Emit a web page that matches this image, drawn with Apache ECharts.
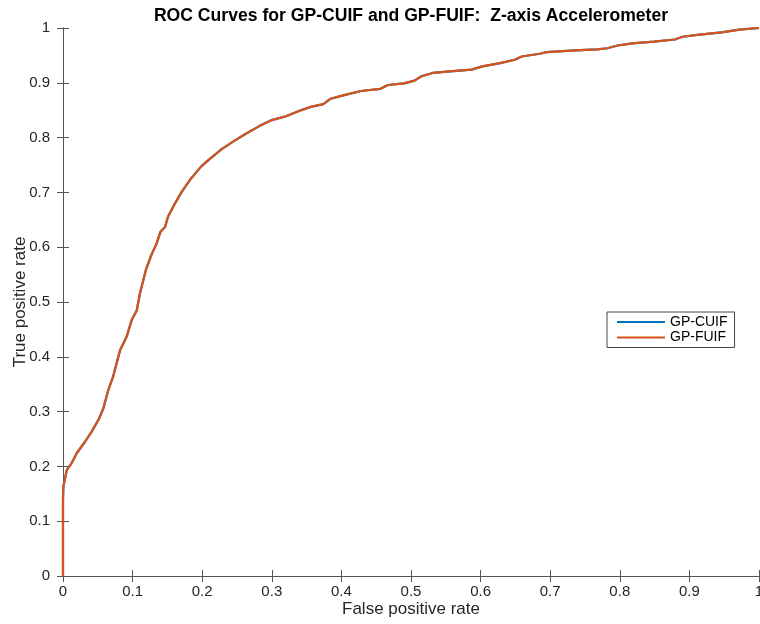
<!DOCTYPE html>
<html>
<head>
<meta charset="utf-8">
<script src="https://cdn.jsdelivr.net/npm/echarts@6/dist/echarts.min.js"></script>
<style>
  html, body { margin: 0; padding: 0; background: #fff; }
  #chart { width: 760px; height: 624px; }
</style>
</head>
<body>
<div id="chart"></div>
<script>
// ROC curve samples (false positive rate, true positive rate)
const fpr = [0, 0, 0, 0.0005, 0.0053, 0.0125, 0.0197, 0.0316, 0.041, 0.051, 0.058, 0.065, 0.072, 0.082,
  0.0915, 0.0987, 0.106, 0.1106, 0.119, 0.127, 0.1346, 0.140, 0.1466, 0.151, 0.161, 0.1705, 0.1825, 0.199,
  0.208, 0.228, 0.246, 0.2615, 0.282, 0.300, 0.3205, 0.338, 0.356, 0.374, 0.3846, 0.4026, 0.428, 0.456,
  0.467, 0.490, 0.505, 0.515, 0.531, 0.556, 0.587, 0.6026, 0.628, 0.649, 0.659, 0.685, 0.695, 0.736,
  0.767, 0.782, 0.797, 0.818, 0.849, 0.879, 0.890, 0.915, 0.946, 0.972, 1.0];
const tprFUIF = [0, 0.10, 0.139, 0.163, 0.193, 0.206, 0.224, 0.245, 0.263, 0.285, 0.306, 0.339, 0.364, 0.412,
  0.437, 0.467, 0.485, 0.516, 0.558, 0.586, 0.607, 0.628, 0.637, 0.656, 0.680, 0.701, 0.723, 0.748,
  0.758, 0.779, 0.794, 0.806, 0.821, 0.832, 0.839, 0.848, 0.856, 0.861, 0.871, 0.877, 0.885, 0.889,
  0.896, 0.899, 0.904, 0.912, 0.918, 0.921, 0.924, 0.930, 0.936, 0.942, 0.948, 0.953, 0.956, 0.959,
  0.961, 0.963, 0.968, 0.972, 0.975, 0.979, 0.984, 0.988, 0.992, 0.997, 1.0];
// GP-CUIF curve coincides with GP-FUIF
const tprCUIF = tprFUIF;

const xTicks = ['0', '0.1', '0.2', '0.3', '0.4', '0.5', '0.6', '0.7', '0.8', '0.9', '1'];
const yTicks = ['0', '0.1', '0.2', '0.3', '0.4', '0.5', '0.6', '0.7', '0.8', '0.9', '1'];

const pairs = (xs, ys) => xs.map((x, i) => [x, ys[i]]);

const axisColor = '#555';
const textColor = '#262626';
const font = '"Liberation Sans", Arial, Helvetica, sans-serif';

const chart = echarts.init(document.getElementById('chart'), null, { renderer: 'canvas' });
chart.setOption({
  animation: false,
  backgroundColor: '#fff',
  textStyle: { fontFamily: font },
  graphic: [{
    type: 'text', x: 411, y: 16, z: 10,
    style: {
      text: 'ROC Curves for GP-CUIF and GP-FUIF:  Z-axis Accelerometer',
      fontFamily: font, fontSize: 17.6, fontWeight: 'bold', fill: '#000',
      textAlign: 'center', textVerticalAlign: 'middle'
    }
  }],
  grid: { left: 63, right: 1, top: 28, bottom: 48, containLabel: false, outerBoundsMode: 'none' },
  legend: {
    orient: 'vertical',
    left: 607, top: 312,
    icon: 'rect',
    itemWidth: 48, itemHeight: 2, itemGap: 1.5,
    padding: [3, 7, 3, 10],
    borderColor: '#444', borderWidth: 1,
    backgroundColor: '#fff',
    textStyle: { fontFamily: font, fontSize: 14, lineHeight: 14, color: '#000' },
    data: ['GP-CUIF', 'GP-FUIF']
  },
  xAxis: [{
    type: 'value', min: 0, max: 1, interval: 0.1,
    name: 'False positive rate', nameLocation: 'middle', nameGap: 25, nameMoveOverlap: false,
    nameTextStyle: { fontFamily: font, fontSize: 17, color: textColor },
    axisLine: { show: true, lineStyle: { color: axisColor, width: 1 } },
    axisTick: { show: true, inside: true, length: 6, lineStyle: { color: axisColor } },
    axisLabel: { fontFamily: font, fontSize: 15, color: textColor, margin: 8,
      formatter: v => xTicks[Math.round(v * 10)] },
    splitLine: { show: false }
  }, {
    type: 'value', min: 0, max: 1, interval: 0.1, position: 'top',
    axisLine: { show: true, lineStyle: { color: axisColor, width: 1 } },
    axisTick: { show: true, inside: true, length: 6, lineStyle: { color: axisColor } },
    axisLabel: { show: false },
    splitLine: { show: false }
  }],
  yAxis: [{
    type: 'value', min: 0, max: 1, interval: 0.1,
    name: 'True positive rate', nameLocation: 'middle', nameGap: 34, nameRotate: 90, nameMoveOverlap: false,
    nameTextStyle: { fontFamily: font, fontSize: 17, color: textColor },
    axisLine: { show: true, lineStyle: { color: axisColor, width: 1 } },
    axisTick: { show: true, inside: true, length: 6, lineStyle: { color: axisColor } },
    axisLabel: { fontFamily: font, fontSize: 15, color: textColor, margin: 13,
      formatter: v => yTicks[Math.round(v * 10)] },
    splitLine: { show: false }
  }, {
    type: 'value', min: 0, max: 1, interval: 0.1, position: 'right',
    axisLine: { show: true, lineStyle: { color: axisColor, width: 1 } },
    axisTick: { show: true, inside: true, length: 6, lineStyle: { color: axisColor } },
    axisLabel: { show: false },
    splitLine: { show: false }
  }],
  series: [{
    name: 'GP-CUIF', type: 'line', xAxisIndex: 0, yAxisIndex: 0,
    data: pairs(fpr, tprCUIF),
    showSymbol: false, symbol: 'none',
    lineStyle: { color: '#0072BD', width: 2.2 },
    itemStyle: { color: '#0072BD' },
    z: 2
  }, {
    name: 'GP-FUIF', type: 'line', xAxisIndex: 0, yAxisIndex: 0,
    data: pairs(fpr, tprFUIF),
    showSymbol: false, symbol: 'none',
    lineStyle: { color: '#D95319', width: 2.2 },
    itemStyle: { color: '#D95319' },
    z: 3
  }]
});
</script>
</body>
</html>
